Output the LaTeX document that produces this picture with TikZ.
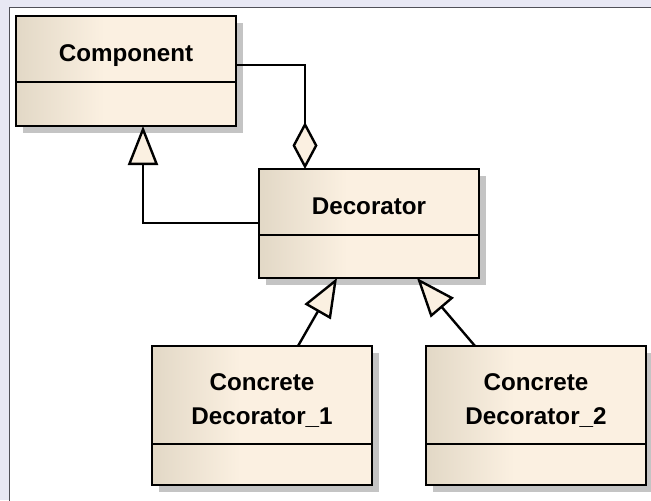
\documentclass[tikz,border=0pt]{standalone}
\usepackage{fontspec}
\setmainfont{Liberation Sans}
\usetikzlibrary{arrows.meta,positioning,shadows,calc}

\definecolor{bgback}{HTML}{E8E8F4}
\definecolor{panelline}{HTML}{505058}
\definecolor{classdark}{HTML}{E2D8C6}
\definecolor{classlight}{HTML}{FBF0E1}
\definecolor{shadowgray}{HTML}{C4C4C4}
\pgfdeclarehorizontalshading{classfill}{100bp}{color(0bp)=(classdark); color(25bp)=(classdark); color(45bp)=(classlight); color(100bp)=(classlight)}

\begin{document}
\begin{tikzpicture}[x=0.5pt, y=0.5pt,
    classbox/.style={draw, line width=1.2pt, shading=classfill, minimum width=110pt,
                     inner sep=0pt, outer sep=0pt,
                     drop shadow={shadow xshift=3.5pt, shadow yshift=-3.5pt, fill=shadowgray, opacity=1}},
    classname/.style={classbox, anchor=north west, minimum height=33pt, align=center,
                      font=\bfseries\fontsize{12.1}{17}\selectfont, text height=1.48em, text depth=0.2em},
    classname2/.style={classbox, anchor=north west, minimum height=49pt, align=center,
                       font=\bfseries\fontsize{12.1}{17}\selectfont, text height=3.16em, text depth=0.2em},
    classbody/.style={classbox, below=0pt of #1},
    generalization/.style={line width=1.2pt, line join=miter,
                           -{Triangle[length=19.5pt, width=15pt, fill=classlight]}},
    aggregation/.style={line width=1.2pt, line join=miter,
                        -{Diamond[length=23.5pt, width=12.5pt, fill=classlight]}}
]

% --- Background and panel ---
\fill[bgback] (0,0) rectangle (651,500);
\useasboundingbox (0,0) rectangle (651,500);
\filldraw[fill=white, draw=panelline, line width=0.5pt] (9,-10) rectangle (660,493);

% --- Classes ---
\node[classname] (compname) at (16,484) {Component};
\node[classbody=compname, minimum height=22pt] (compbody) {};

\node[classname] (decname) at (259,331) {Decorator};
\node[classbody=decname, minimum height=21.5pt] (decbody) {};

\node[classname2] (cdonename) at (152,154) {Concrete\\Decorator\_1};
\node[classbody=cdonename, minimum height=20.5pt] (cdonebody) {};

\node[classname2] (cdtwoname) at (426,154) {Concrete\\Decorator\_2};
\node[classbody=cdtwoname, minimum height=20.5pt] (cdtwobody) {};

% --- Relations ---
\draw[aggregation] ($(compname.south east)+(0,17)$) -| ($(decname.north west)+(46,0)$);
\draw[generalization] ($(decname.south west)+(0,12)$) -| ($(compbody.south west)+(127,0)$);
\draw[generalization] ($(cdonename.north west)+(146,0)$) -- ($(decbody.south west)+(78,0)$);
\draw[generalization] ($(cdtwoname.north west)+(49,0)$) -- ($(decbody.south west)+(158,0)$);

\end{tikzpicture}
\end{document}
